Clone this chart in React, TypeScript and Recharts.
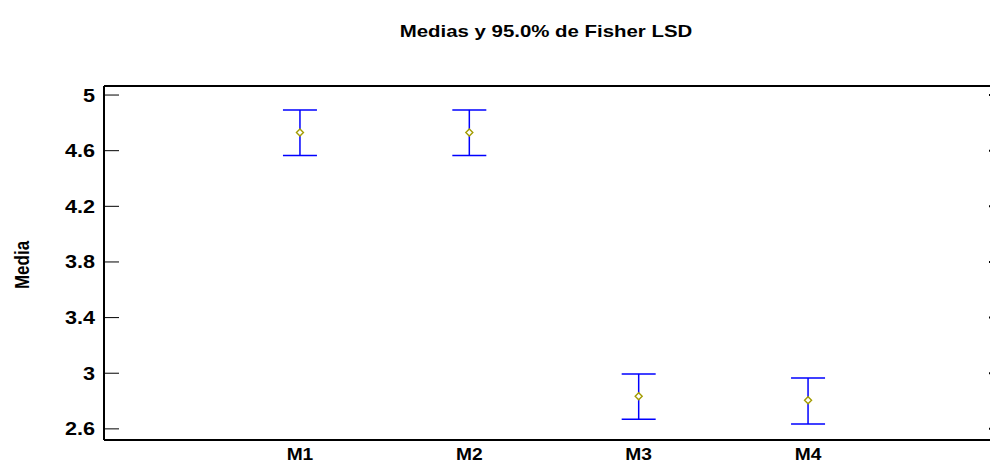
import React from "react";
import { ComposedChart, Scatter, ErrorBar, XAxis, YAxis, ReferenceLine } from "recharts";

const categories = ["M1", "M2", "M3", "M4"];
const means = [4.73, 4.73, 2.835, 2.805];
const lowerLimits = [4.565, 4.565, 2.67, 2.635];
const upperLimits = [4.893, 4.893, 2.995, 2.965];
const yTicks = [2.6, 3, 3.4, 3.8, 4.2, 4.6, 5];
const xTicks = [1, 2, 3, 4];

const FONT = '"Liberation Sans", Arial, sans-serif';
const STRETCH = 1.2;
const X_DOMAIN: [number, number] = [-0.157, 5.157];
const Y_DOMAIN: [number, number] = [2.52, 5.065];

const chartData = categories.map((name, i) => ({
  x: i + 1,
  name,
  mean: means[i],
  err: [means[i] - lowerLimits[i], upperLimits[i] - means[i]],
}));

function LeftTick(props: any) {
  const { x, y, payload } = props;
  return (
    <g>
      <text
        x={0}
        y={0}
        dy="0.36em"
        transform={`translate(${x},${y}) scale(${STRETCH},1)`}
        textAnchor="end"
        fontFamily={FONT}
        fontWeight="bold"
        fontSize={18}
        fill="#000"
      >
        {payload.value}
      </text>
      <line x1={x + 9} x2={x + 24} y1={y} y2={y} stroke="#000" strokeWidth={1} />
    </g>
  );
}

// right axis sits just past the window edge, only the tick stubs show
function RightTick(props: any) {
  const { x, y } = props;
  return <line x1={x - 24} x2={x - 9} y1={y} y2={y} stroke="#000" strokeWidth={2} />;
}

function BottomTick(props: any) {
  const { x, y, payload } = props;
  return (
    <text
      x={0}
      y={0}
      dy="0.71em"
      transform={`translate(${x},${y}) scale(${STRETCH},1)`}
      textAnchor="middle"
      fontFamily={FONT}
      fontWeight="bold"
      fontSize={16}
      fill="#000"
    >
      {categories[payload.value - 1]}
    </text>
  );
}

function Diamond(props: any) {
  const { cx, cy } = props;
  const r = 3.5;
  return (
    <polygon
      points={`${cx},${cy - r} ${cx + r},${cy} ${cx},${cy + r} ${cx - r},${cy}`}
      fill="#fff"
      stroke="#a39c00"
      strokeWidth={1.4}
    />
  );
}

export default function App() {
  return (
    <div style={{ position: "absolute", left: 0, top: 0, width: 990, height: 464, overflow: "hidden", background: "#fff" }}>
      <div
        style={{
          position: "absolute", left: 100, top: 22, width: 892, textAlign: "center",
          fontFamily: FONT, fontWeight: "bold", fontSize: 17, lineHeight: "20px", color: "#000",
          transform: `scaleX(${STRETCH})`,
        }}
      >
        Medias y 95.0% de Fisher LSD
      </div>
      <div
        style={{
          position: "absolute", left: 23, top: 265, transform: "translate(-50%, -50%) rotate(-90deg) scaleY(1.15)",
          fontFamily: FONT, fontWeight: "bold", fontSize: 17, lineHeight: "20px", color: "#000", whiteSpace: "nowrap",
        }}
      >
        Media
      </div>
      <div style={{ position: "absolute", left: 0, top: 0, width: 1020, height: 464 }}>
        <ComposedChart width={1020} height={464} data={chartData} margin={{ top: 86, right: 0, bottom: 0, left: 0 }}>
          <XAxis
            xAxisId="bottom"
            dataKey="x"
            type="number"
            domain={X_DOMAIN}
            ticks={xTicks}
            tickLine={false}
            tickSize={0}
            tickMargin={9}
            tick={<BottomTick />}
            axisLine={{ stroke: "#000", strokeWidth: 2 }}
            height={24}
            allowDataOverflow
          />
          <YAxis
            yAxisId="left"
            type="number"
            domain={Y_DOMAIN}
            ticks={yTicks}
            tickLine={false}
            tickSize={0}
            tickMargin={9}
            tick={<LeftTick />}
            axisLine={{ stroke: "#000", strokeWidth: 2 }}
            width={104}
            allowDataOverflow
          />
          <YAxis
            yAxisId="right"
            orientation="right"
            type="number"
            domain={Y_DOMAIN}
            ticks={yTicks}
            tickLine={false}
            tickSize={0}
            tickMargin={9}
            tick={<RightTick />}
            axisLine={{ stroke: "#000", strokeWidth: 2 }}
            width={16}
            allowDataOverflow
          />
          <ReferenceLine
            xAxisId="bottom"
            yAxisId="left"
            y={Y_DOMAIN[1]}
            stroke="#000"
            strokeWidth={2}
            ifOverflow="visible"
          />
          <Scatter
            xAxisId="bottom"
            yAxisId="right"
            dataKey="mean"
            shape={() => <g />}
            isAnimationActive={false}
          />
          <Scatter
            xAxisId="bottom"
            yAxisId="left"
            dataKey="mean"
            shape={<Diamond />}
            isAnimationActive={false}
          >
            <ErrorBar dataKey="err" direction="y" width={17} stroke="#0000ff" strokeWidth={1.5} />
          </Scatter>
        </ComposedChart>
      </div>
    </div>
  );
}
